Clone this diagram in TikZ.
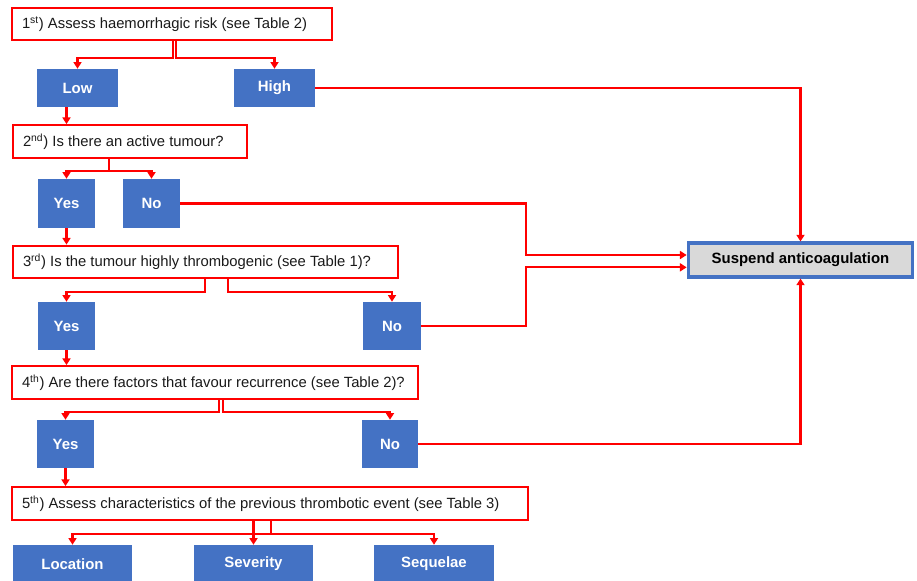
\documentclass[tikz,border=0pt]{standalone}
\usepackage{fontspec}
\setmainfont{Liberation Sans}
\usetikzlibrary{arrows.meta}
\definecolor{bblue}{HTML}{4472C4}
\definecolor{rred}{HTML}{FF0000}
\definecolor{sgray}{HTML}{D9D9D9}
\definecolor{ttext}{HTML}{1A1A1A}
\begin{document}
\begin{tikzpicture}[x=0.75pt,y=-0.75pt,
  every node/.style={font=\fontsize{11.1}{13}\selectfont},
  qbox/.style={draw=rred,line width=1.6pt,fill=white,text=ttext,anchor=center,
    inner ysep=0pt,inner xsep=7.5pt,align=flush left,text width=#1,minimum height=24.5pt},
  abox/.style={fill=bblue,text=white,font=\fontsize{11.2}{13}\selectfont\bfseries,
    inner sep=0pt,anchor=center},
  sbox/.style={draw=bblue,line width=2.8pt,fill=sgray,text=black,
    font=\fontsize{11.2}{13}\selectfont\bfseries,inner sep=0pt,anchor=center},
  conn/.style={draw=rred,line width=1.6pt,-{Triangle[width=6pt,length=5pt]}}]
\useasboundingbox (0,0) rectangle (917,581);
\clip (0,0) rectangle (917,581);
% question boxes (text width = box width - 15pt)
\node[qbox=225pt] (q1) at (172,24) {1\textsuperscript{st}) Assess haemorrhagic risk (see Table 2)};
\node[qbox=160.5pt] (q2) at (130,141.5) {2\textsuperscript{nd}) Is there an active tumour?};
\node[qbox=273.75pt] (q3) at (205.5,262) {3\textsuperscript{rd}) Is the tumour highly thrombogenic (see Table 1)?};
\node[qbox=289.5pt] (q4) at (215,382.5) {4\textsuperscript{th}) Are there factors that favour recurrence (see Table 2)?};
\node[qbox=372pt] (q5) at (270,503.5) {5\textsuperscript{th}) Assess characteristics of the previous thrombotic event (see Table 3)};
% answer boxes
\node[abox, minimum width=60.75pt, minimum height=28.5pt] (low) at (77.5,88) {Low};
\node[abox, minimum width=60.75pt, minimum height=28.5pt] (high) at (274.5,88) {High};
\node[abox, minimum width=42.75pt, minimum height=36.75pt] (yes2) at (66.5,203.5) {Yes};
\node[abox, minimum width=42.75pt, minimum height=36.75pt] (no2) at (151.5,203.5) {No};
\node[abox, minimum width=42.75pt, minimum height=36pt] (yes3) at (66.5,326) {Yes};
\node[abox, minimum width=43.5pt, minimum height=36pt] (no3) at (392,326) {No};
\node[abox, minimum width=42.75pt, minimum height=36pt] (yes4) at (65.5,444) {Yes};
\node[abox, minimum width=42pt, minimum height=36pt] (no4) at (390,444) {No};
\node[abox, minimum width=89.25pt, minimum height=28.5pt] (loc) at (72.5,564) {Location};
\node[abox, minimum width=89.25pt, minimum height=28.5pt] (sev) at (253.5,564) {Severity};
\node[abox, minimum width=90pt, minimum height=28.5pt] (seq) at (434,564) {Sequelae};
\node[sbox, minimum width=168pt, minimum height=25pt] (sus) at (800.5,260) {Suspend anticoagulation};
% helper coordinates
\coordinate (mx) at (526,0);
\coordinate (s1) at ([yshift=3.75pt]sus.west);
\coordinate (s2) at ([yshift=-5.5pt]sus.west);
% step 1
\draw[conn] ([xshift=0.75pt]q1.south) -- ++(0,17) -| (low.north);
\draw[conn] ([xshift=3pt]q1.south) -- ++(0,17) -| (high.north);
\draw[conn] (high.east) -| (sus.north);
\draw[conn] (low.south -| yes2) -- (q2.north -| yes2);
% step 2
\draw[conn] ([xshift=-15.75pt]q2.south) -- ++(0,12) -| (yes2.north);
\draw[conn] ([xshift=-15.75pt]q2.south) -- ++(0,12) -| (no2.north);
\draw[conn] (no2.east) -| (mx |- s1) -- (s1);
\draw[conn] (yes2.south) -- (q3.north -| yes2);
% step 3
\draw[conn] ([xshift=-0.4pt]q3.south) -- ++(0,13) -| (yes3.north);
\draw[conn] ([xshift=16.9pt]q3.south) -- ++(0,13) -| (no3.north);
\draw[conn] (no3.east) -| (mx |- s2) -- (s2);
\draw[conn] (yes3.south) -- (q4.north -| yes3);
% step 4
\draw[conn] ([xshift=3pt]q4.south) -- ++(0,12) -| (yes4.north);
\draw[conn] ([xshift=6pt]q4.south) -- ++(0,12) -| (no4.north);
\draw[conn] (no4.east) -| (sus.south);
\draw[conn] (yes4.south) -- (q5.north -| yes4);
% step 5
\draw[conn] (q5.south -| sev) -- (sev.north);
\draw[conn] ([xshift=0.75pt]q5.south) -- ++(0,13) -| (loc.north);
\draw[conn] ([xshift=0.75pt]q5.south) -- ++(0,13) -| (seq.north);
\end{tikzpicture}
\end{document}
